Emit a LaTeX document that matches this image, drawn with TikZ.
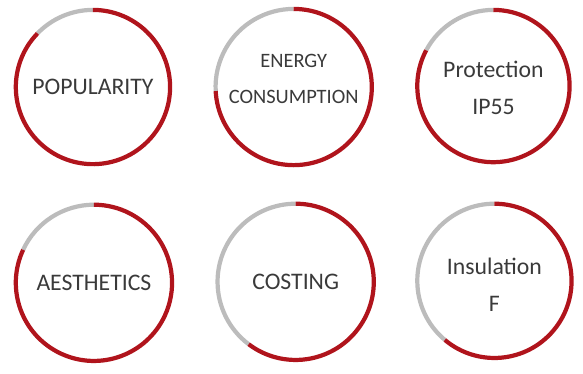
\documentclass[tikz,border=0pt]{standalone}
\usepackage{fontspec}
\setmainfont{Carlito}
\definecolor{ringred}{RGB}{176,20,28}
\definecolor{ringgrey}{RGB}{188,188,188}
\definecolor{labelgrey}{RGB}{58,58,58}

\tikzset{every picture/.style={line width=0.75pt}}
\tikzset{
	redarc/.style={draw=ringred, line width=3.2pt},
	greyarc/.style={draw=ringgrey, line width=3.2pt},
	ringtext/.style={text=labelgrey, align=center, inner sep=0.75pt, font=\fontsize{18}{28}\selectfont},
	smalltext/.style={ringtext, font=\fontsize{15.5}{27}\selectfont},
}

\begin{document}
\begin{tikzpicture}[x=0.75pt,y=0.75pt,yscale=-1,xscale=1]
	\path (0,0) rectangle (583,367); %set diagram size
	
	%Centres of the rings
	\coordinate (cpop) at (94,88);
	\coordinate (cene) at (297,88);
	\coordinate (cpro) at (499,87);
	\coordinate (caes) at (95,286);
	\coordinate (ccos) at (299,285);
	\coordinate (cins) at (500,284);
	
	%Arc [POPULARITY]
	\draw [greyarc] (cpop) ++(-90:78) arc [start angle=-90, end angle=-136, radius=78];
	\draw [redarc] (cpop) ++(-136:78) arc [start angle=-136, end angle=-450, radius=78];
	%Arc [ENERGY CONSUMPTION]
	\draw [greyarc] (cene) ++(-90:79) arc [start angle=-90, end angle=-183, radius=79];
	\draw [redarc] (cene) ++(-183:79) arc [start angle=-183, end angle=-450, radius=79];
	%Arc [Protection]
	\draw [greyarc] (cpro) ++(-90:77) arc [start angle=-90, end angle=-152, radius=77];
	\draw [redarc] (cpro) ++(-152:77) arc [start angle=-152, end angle=-450, radius=77];
	%Arc [AESTHETICS]
	\draw [greyarc] (caes) ++(-90:79) arc [start angle=-90, end angle=-155, radius=79];
	\draw [redarc] (caes) ++(-155:79) arc [start angle=-155, end angle=-450, radius=79];
	%Arc [COSTING]
	\draw [greyarc] (ccos) ++(-90:79) arc [start angle=-90, end angle=-233, radius=79];
	\draw [redarc] (ccos) ++(-233:79) arc [start angle=-233, end angle=-450, radius=79];
	%Arc [Insulation]
	\draw [greyarc] (cins) ++(-90:78) arc [start angle=-90, end angle=-230, radius=78];
	\draw [redarc] (cins) ++(-230:78) arc [start angle=-230, end angle=-450, radius=78];
	
	% Text Node
	\node [ringtext] (pop) at (cpop) {POPULARITY};
	% Text Node
	\node [smalltext] (ene) at (297,80) {ENERGY\\CONSUMPTION};
	% Text Node
	\node [ringtext] (pro) at (499,89) {Protection\\IP55};
	% Text Node
	\node [ringtext] (aes) at (caes) {AESTHETICS};
	% Text Node
	\node [ringtext] (cos) at (ccos) {COSTING};
	% Text Node
	\node [ringtext] (ins) at (500,288) {Insulation\\F};
	
\end{tikzpicture}
\end{document}
